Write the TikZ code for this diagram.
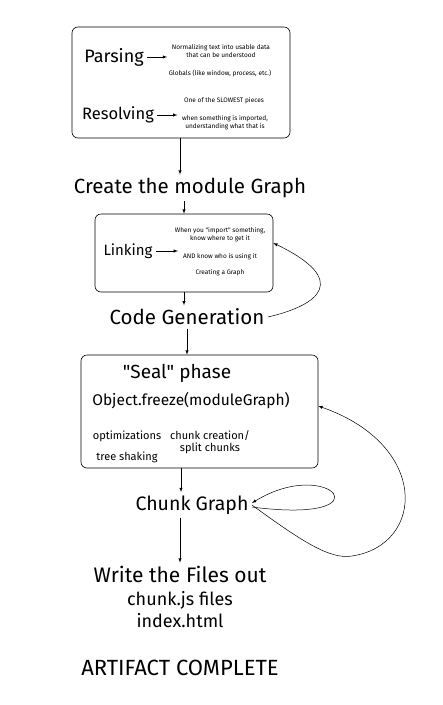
\documentclass[tikz,border=0pt]{standalone}
\usepackage{fontspec}
\setmainfont{Fira Sans}
\usepackage{tikz}
\usetikzlibrary{positioning}

\begin{document}
\begin{tikzpicture}[
    x=1pt, y=-1pt,
    stage/.style={draw,rounded corners=6pt,line width=0.6pt},
    title/.style={font=\fontsize{20.5}{24}\selectfont},
    note/.style={font=\fontsize{6.5}{8}\selectfont,align=center,inner sep=1pt},
    mid/.style={font=\fontsize{11}{12}\selectfont,align=center,inner sep=1pt},
    flow/.style={-latex,line width=0.5pt}
    ]
    \useasboundingbox (0,0) rectangle (443,705);

    % first box: parsing and resolving
    \node[stage,minimum width=218pt,minimum height=111pt] (parsebox) at (181,82.5) {};
    \node[font=\fontsize{18}{21}\selectfont] (parsing) at (114,57) {Parsing};
    \node[note] (parsenote) at (221,51) {Normalizing text into usable data\\that can be understood};
    \node[note] (globals) at (220,73) {Globals (like window, process, etc.)};
    \node[font=\fontsize{16.5}{20}\selectfont] (resolving) at (118,115) {Resolving};
    \node[note] (slowest) at (224,101) {One of the SLOWEST pieces};
    \node[note] (imported) at (225,123) {when something is imported,\\understanding what that is};

    \node[title] (modgraph) at (190,188) {Create the module Graph};

    % second box: linking
    \node[stage,minimum width=178pt,minimum height=78pt] (linkbox) at (184,253) {};
    \node[font=\fontsize{15}{18}\selectfont] (linking) at (128,251) {Linking};
    \node[note] (whereget) at (220,235) {When you \textquotedbl import\textquotedbl{} something,\\know where to get it};
    \node[note] (whouses) at (220,257) {AND know who is using it};
    \node[note] (creating) at (220,273) {Creating a Graph};

    \node[title] (codegen) at (187,317) {Code Generation};

    % third box: seal phase
    \node[stage,minimum width=237pt,minimum height=113pt] (sealbox) at (199.5,411.5) {};
    \node[font=\fontsize{19}{22}\selectfont] (seal) at (177,373) {\textquotedbl Seal\textquotedbl{} phase};
    \node[font=\fontsize{15.5}{18}\selectfont] (freeze) at (191,401) {Object.freeze(moduleGraph)};
    \node[mid] (optim) at (127,436) {optimizations};
    \node[mid] (shaking) at (127,457) {tree shaking};
    \node[mid] (chunkcreate) at (210,442) {chunk creation/\\split chunks};

    \node[font=\fontsize{19.5}{22}\selectfont] (chunkgraph) at (192,505) {Chunk Graph};

    \node[font=\fontsize{18}{22.5}\selectfont,align=center] (write) at (180,597)
        {{\fontsize{21}{22.5}\selectfont Write the Files out}\\chunk.js files\\index.html};
    \node[font=\fontsize{22}{24}\selectfont] (artifact) at (180,668) {ARTIFACT COMPLETE};

    \coordinate (linkin) at ([yshift=10pt]linkbox.east);
    \coordinate (sealin) at ([yshift=5.5pt]sealbox.east);
    \coordinate (loopin) at ([yshift=2pt]chunkgraph.east);
    \coordinate (loopout) at ([yshift=-2pt]chunkgraph.east);

    \path (parsing.east) edge[flow] ([xshift=20pt]parsing.east)
    (resolving.east) edge[flow] ([xshift=20pt]resolving.east)
    (linking.east) edge[flow] ([xshift=22pt]linking.east)
    ([xshift=-1pt]parsebox.south) edge[flow] ([xshift=-1pt]parsebox.south |- modgraph.north)
    (modgraph.south -| linkbox.north) edge[flow] (linkbox.north)
    (linkbox.south) edge[flow] (linkbox.south |- codegen.north)
    (codegen.south) edge[flow] (codegen.south |- sealbox.north)
    ([xshift=-11pt]chunkgraph.north |- sealbox.south) edge[flow] ([xshift=-11pt]chunkgraph.north)
    (write.north |- chunkgraph.south) edge[flow] (write.north)
    ;

    \draw[flow] (codegen.east) .. controls (320,305) and (350,280) .. (linkin);
    \draw[flow] (loopout) .. controls (390,525) and (330,455) .. (loopin);
    \draw[flow] (chunkgraph.east) .. controls (300,540) and (330,560) .. (352,556)
        .. controls (425,545) and (430,445) .. (sealin);

  \end{tikzpicture}
\end{document}
